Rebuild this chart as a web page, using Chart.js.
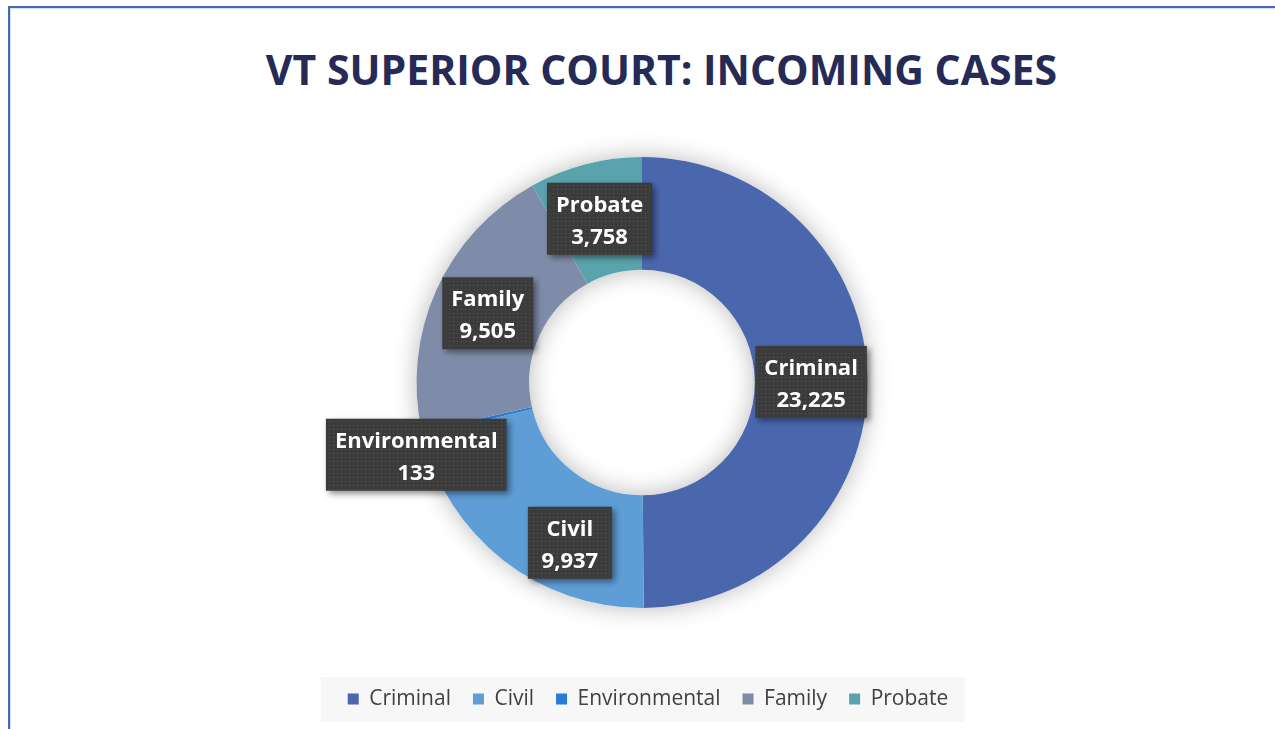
<!DOCTYPE html>
<html>
<head>
<meta charset="utf-8">
<script src="https://cdn.jsdelivr.net/npm/chart.js"></script>
<style>
    html, body { margin: 0; padding: 0; background: #fff; overflow: hidden; }
    #frame {
        position: absolute; left: 8px; top: 6px; width: 1400px; height: 900px;
        border-top: 2px solid #4a67b0; border-left: 2px solid #4a67b0;
        box-shadow: inset 1px 1px 0 #d7def0;
    }
    #title {
        position: absolute; left: 48px; width: 1227px; top: 49px;
        text-align: center; font-family: "Open Sans", sans-serif; font-weight: 700;
        font-size: 41px; line-height: 41px; color: #252a56; white-space: nowrap;
    }
    #wrap { position: absolute; left: 0; top: 0; width: 1275px; height: 729px; }
</style>
</head>
<body>
<div id="frame"></div>
<div id="title">VT SUPERIOR COURT: INCOMING CASES</div>
<div id="wrap"><canvas id="chart"></canvas></div>
<script>
// data
const categories = ['Criminal', 'Civil', 'Environmental', 'Family', 'Probate'];
const caseCounts = [23225, 9937, 133, 9505, 3758];
const sliceColors = ['#4a66ad', '#5e9dd5', '#2a7bd6', '#7f8ca9', '#5aa3ad'];

// label boxes moved off their default spot (same as in the original)
const labelNudges = [[0, 0], [32, 27], [-61, 34], [0, 0], [0, 0]];

// dotted fill for the label boxes
function makeDotPattern(ctx) {
    const c = document.createElement('canvas');
    c.width = 4; c.height = 4;
    const g = c.getContext('2d');
    g.fillStyle = '#3b3b3b';
    g.fillRect(0, 0, 4, 4);
    g.fillStyle = '#565656';
    g.fillRect(1, 1, 1, 1);
    return ctx.createPattern(c, 'repeat');
}

// soft shadow under the ring
const ringShadow = {
    id: 'ringShadow',
    beforeDatasetsDraw(chart) {
        const arc = chart.getDatasetMeta(0).data[0];
        if (!arc) return;
        const p = arc.getProps(['x', 'y', 'innerRadius', 'outerRadius'], true);
        const ctx = chart.ctx;
        ctx.save();
        ctx.beginPath();
        ctx.arc(p.x, p.y, p.outerRadius, 0, Math.PI * 2);
        ctx.arc(p.x, p.y, p.innerRadius, 0, Math.PI * 2, true);
        ctx.fillStyle = '#ffffff';
        ctx.shadowColor = 'rgba(0,0,0,0.28)';
        ctx.shadowBlur = 24;
        ctx.fill();
        ctx.restore();
    }
};

// dark callout boxes with name and value
const sliceLabels = {
    id: 'sliceLabels',
    afterDatasetsDraw(chart) {
        const ctx = chart.ctx;
        const meta = chart.getDatasetMeta(0);
        const pattern = makeDotPattern(ctx);
        ctx.save();
        ctx.font = '700 22px "Open Sans"';
        meta.data.forEach((arc, i) => {
            const pos = arc.tooltipPosition(true);
            const cx = pos.x + labelNudges[i][0];
            const cy = pos.y + labelNudges[i][1];
            const lines = [chart.data.labels[i], caseCounts[i].toLocaleString('en-US')];
            const w = Math.max(Math.max(...lines.map(t => ctx.measureText(t).width)) + 18, 84);
            const h = 72;
            ctx.save();
            ctx.shadowColor = 'rgba(0,0,0,0.45)';
            ctx.shadowBlur = 6;
            ctx.shadowOffsetX = 3;
            ctx.shadowOffsetY = 3;
            ctx.fillStyle = pattern;
            ctx.fillRect(cx - w / 2, cy - h / 2, w, h);
            ctx.restore();
            ctx.fillStyle = '#ffffff';
            ctx.textAlign = 'center';
            ctx.textBaseline = 'middle';
            ctx.fillText(lines[0], cx, cy - 13);
            ctx.fillText(lines[1], cx, cy + 19);
        });
        ctx.restore();
    }
};

// nudge the legend row a little to the right, like the original
const legendShift = {
    id: 'legendShift',
    afterUpdate(chart) {
        const lg = chart.legend;
        if (!lg) return;
        lg.left += 6;
        lg.right += 6;
        (lg.legendHitBoxes || []).forEach(b => { b.left += 6; });
    }
};

// light grey panel behind the legend
const legendPanel = {
    id: 'legendPanel',
    beforeDraw(chart) {
        const boxes = chart.legend && chart.legend.legendHitBoxes;
        if (!boxes || !boxes.length) return;
        const first = boxes[0];
        const last = boxes[boxes.length - 1];
        const mid = first.top + 10.5;
        const ctx = chart.ctx;
        ctx.save();
        ctx.fillStyle = '#f7f7f7';
        ctx.fillRect(first.left - 27, mid - 22, last.left + last.width + 17 - (first.left - 27), 45);
        ctx.restore();
    }
};

new Chart(document.getElementById('chart'), {
    type: 'doughnut',
    data: {
        labels: categories,
        datasets: [{
            data: caseCounts,
            backgroundColor: sliceColors,
            borderWidth: 0
        }]
    },
    options: {
        responsive: true,
        maintainAspectRatio: false,
        animation: false,
        cutout: '50%',
        layout: { padding: { top: 157, left: 9, right: 0, bottom: 9.5 } },
        plugins: {
            tooltip: { enabled: false },
            subtitle: {
                display: true,
                text: '',
                position: 'bottom',
                weight: 500,
                padding: 0,
                font: { size: 58.5, lineHeight: 1 }
            },
            legend: {
                position: 'bottom',
                labels: {
                    boxWidth: 11,
                    boxHeight: 11,
                    padding: 22,
                    color: '#404040',
                    font: { family: 'Open Sans', size: 21 }
                }
            }
        }
    },
    plugins: [legendShift, legendPanel, ringShadow, sliceLabels]
});
</script>
</body>
</html>
